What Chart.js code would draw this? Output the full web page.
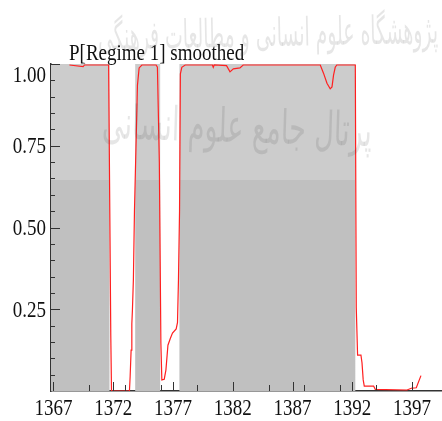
<!DOCTYPE html>
<html>
<head>
<meta charset="utf-8">
<script src="https://cdn.jsdelivr.net/npm/chart.js@4.4.1/dist/chart.umd.min.js"></script>
<style>
  html, body { margin: 0; padding: 0; background: #fff; }
  canvas { display: block; }
</style>
</head>
<body>
<canvas id="chart" width="442" height="421"></canvas>
<script>
// smoothed probability of regime 1, by year (solar hijri)
const probYears = [
  1368.34, 1369.49, 1369.60, 1371.62, 1371.80, 1371.86, 1373.36, 1373.42, 1373.50, 1373.56,
  1373.61, 1373.69, 1373.78, 1374.03, 1374.17, 1374.40, 1375.59, 1375.70, 1375.86, 1375.99,
  1376.07, 1376.27, 1376.41, 1376.58, 1376.77, 1376.96, 1377.27, 1377.38, 1377.46, 1377.55,
  1377.62, 1377.74, 1378.02, 1380.30, 1380.37, 1380.45, 1381.48, 1381.77, 1382.05, 1382.60,
  1382.87, 1389.32, 1389.59, 1389.88, 1390.15, 1390.30, 1390.43, 1390.57, 1390.70, 1392.25,
  1392.33, 1392.44, 1392.72, 1392.81, 1392.91, 1393.00, 1393.78, 1393.92, 1396.57, 1396.99,
  1397.35, 1397.74
];
const probValues = [
  0.997, 0.992, 0.997, 0.997, 0.17, 0.0, 0.0, 0.045, 0.125, 0.205,
  0.248, 0.34, 0.55, 0.935, 0.988, 0.997, 0.997, 0.99, 0.70, 0.146,
  0.034, 0.036, 0.064, 0.14, 0.16, 0.177, 0.19, 0.21, 0.34, 0.55,
  0.97, 0.99, 0.997, 0.997, 0.99, 0.997, 0.995, 0.976, 0.985, 0.988,
  0.997, 0.997, 0.972, 0.941, 0.924, 0.930, 0.966, 0.99, 0.997, 0.997,
  0.255, 0.11, 0.11, 0.086, 0.034, 0.015, 0.015, 0.005, 0.003, 0.009,
  0.010, 0.047
];

// shaded regime 1 periods: each value holds until the next year in the list
const regimeYears = [1366.8, 1371.69, 1373.84, 1375.93, 1377.54, 1392.25, 1399.5];
const regimeValues = [1, 0, 1, 0, 1, 0, 0];

const xTickYears = [1367, 1372, 1377, 1382, 1387, 1392, 1397];
const xMinorYears = [1370, 1373, 1376, 1379, 1382, 1385, 1388, 1391, 1394, 1397];
const yTickValues = [0.25, 0.5, 0.75, 1];

const chartTitle = 'P[Regime 1] smoothed';
const watermarkLines = ['پژوهشگاه علوم انسانی و مطالعات فرهنگی', 'پرتال جامع علوم انسانی'];

const FONT = '19px "Liberation Serif", "Times New Roman", serif';
const STRETCH = 1.22; // text in the picture is taller than wide

function stretchedText(ctx, text, x, y, align) {
  ctx.save();
  ctx.translate(x, y);
  ctx.scale(1, STRETCH);
  ctx.textAlign = align;
  ctx.textBaseline = 'alphabetic';
  ctx.fillText(text, 0, 0);
  ctx.restore();
}

// two tone grey of the shaded blocks
function regimeFill(context) {
  const chart = context.chart;
  const a = chart.chartArea;
  if (!a) return '#c0c0c0';
  const split = (chart.scales.y.getPixelForValue(0.645) - a.top) / (a.bottom - a.top);
  const g = chart.ctx.createLinearGradient(0, a.top, 0, a.bottom);
  g.addColorStop(0, '#cccccc');
  g.addColorStop(split, '#cccccc');
  g.addColorStop(split, '#c0c0c0');
  g.addColorStop(1, '#c0c0c0');
  return g;
}

const axisDecor = {
  id: 'axisDecor',
  afterDraw(chart) {
    const { ctx, chartArea: a, scales: { x, y } } = chart;
    ctx.save();

    // tick marks pointing inward
    ctx.strokeStyle = '#333';
    ctx.lineWidth = 1;
    ctx.beginPath();
    for (let i = 1; i <= 20; i++) {
      const v = i * 0.05;
      const py = Math.round(y.getPixelForValue(v)) + 0.5;
      const major = yTickValues.some(t => Math.abs(t - v) < 1e-6);
      ctx.moveTo(a.left, py);
      ctx.lineTo(a.left + (major ? 9 : 4), py);
    }
    xMinorYears.forEach(yr => {
      const px = Math.round(x.getPixelForValue(yr)) + 0.5;
      ctx.moveTo(px, a.bottom);
      ctx.lineTo(px, a.bottom - 6);
    });
    xTickYears.forEach(yr => {
      const px = Math.round(x.getPixelForValue(yr)) + 0.5;
      ctx.moveTo(px, a.bottom);
      ctx.lineTo(px, a.bottom - 9);
    });
    ctx.stroke();

    // labels
    ctx.fillStyle = '#111';
    ctx.font = FONT;
    yTickValues.forEach(v => {
      const py = y.getPixelForValue(v);
      const base = Math.max(py + 7.6, a.top + 17.5);
      stretchedText(ctx, v.toFixed(2), a.left - 5, base, 'right');
    });
    xTickYears.forEach(yr => {
      stretchedText(ctx, String(yr), x.getPixelForValue(yr), a.bottom + 24, 'center');
    });
    stretchedText(ctx, chartTitle, a.left + 18, a.top - 4.5, 'left');

    // faint watermark
    ctx.fillStyle = 'rgba(60,60,60,0.13)';
    ctx.direction = 'rtl';
    const marks = [
      { text: watermarkLines[0], cx: 268, cy: 36, w: 340, size: 26, sy: 1.5, rot: -0.02 },
      { text: watermarkLines[1], cx: 237, cy: 130, w: 270, size: 36, sy: 1.3, rot: 0.03 }
    ];
    marks.forEach(m => {
      ctx.save();
      ctx.font = m.size + 'px "DejaVu Sans", sans-serif';
      const tw = ctx.measureText(m.text).width;
      ctx.translate(m.cx, m.cy);
      ctx.rotate(m.rot);
      ctx.scale(m.w / tw, m.sy);
      ctx.textAlign = 'center';
      ctx.textBaseline = 'middle';
      ctx.fillText(m.text, 0, 0);
      ctx.restore();
    });

    ctx.restore();
  }
};

new Chart(document.getElementById('chart'), {
  type: 'line',
  data: {
    datasets: [
      {
        label: chartTitle,
        data: probYears.map((yr, i) => ({ x: yr, y: probValues[i] })),
        borderColor: '#ff2020',
        borderWidth: 1.2,
        pointRadius: 0,
        tension: 0,
        fill: false
      },
      {
        label: 'Regime 1',
        data: regimeYears.map((yr, i) => ({ x: yr, y: regimeValues[i] })),
        stepped: 'before',
        borderColor: 'rgba(0,0,0,0)',
        borderWidth: 0,
        pointRadius: 0,
        fill: 'origin',
        backgroundColor: regimeFill
      }
    ]
  },
  options: {
    responsive: false,
    animation: false,
    events: [],
    layout: { padding: { top: 64, left: 0, right: 0, bottom: 0 } },
    plugins: {
      legend: { display: false },
      title: { display: false },
      tooltip: { enabled: false }
    },
    scales: {
      x: {
        type: 'linear',
        min: 1366.8,
        max: 1399.5,
        grid: { display: true, drawOnChartArea: false, drawTicks: false },
        border: { display: true, color: '#333', width: 1.5 },
        ticks: { display: false },
        afterBuildTicks(s) { s.ticks = xTickYears.map(v => ({ value: v })); },
        afterFit(s) { s.height = 30; }
      },
      y: {
        min: 0,
        max: 1,
        grid: { display: true, drawOnChartArea: false, drawTicks: false },
        border: { display: true, color: '#333', width: 1.5 },
        ticks: { display: false },
        afterFit(s) { s.width = 51; }
      }
    }
  },
  plugins: [axisDecor]
});
</script>
</body>
</html>
